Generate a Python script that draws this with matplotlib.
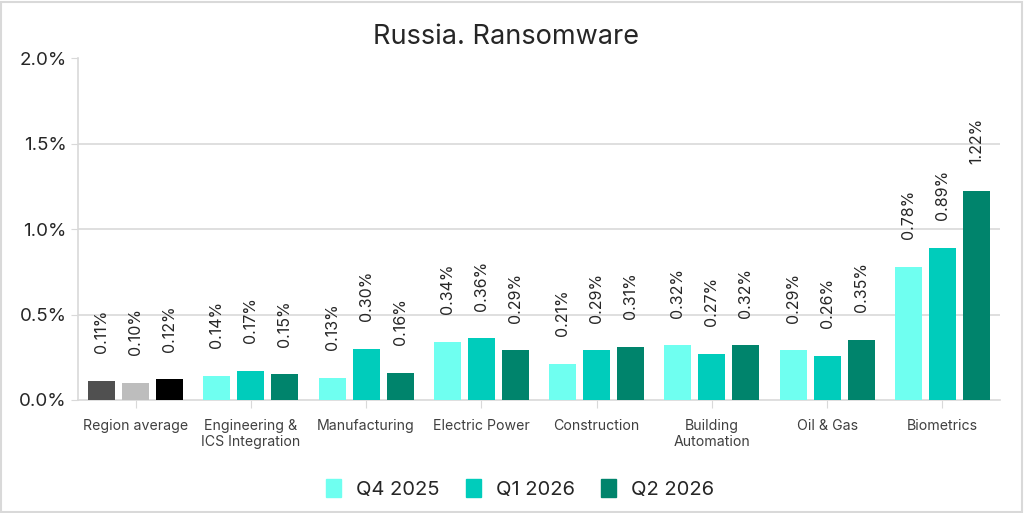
import numpy as np
import matplotlib.pyplot as plt
from matplotlib.patches import Rectangle

plt.rcParams['font.family'] = ['Inter', 'DejaVu Sans']

# --- data ---
categories = ["Region average", "Engineering &\nICS Integration", "Manufacturing",
              "Electric Power", "Construction", "Building\nAutomation",
              "Oil & Gas", "Biometrics"]
series_names = ["Q4 2025", "Q1 2026", "Q2 2026"]
q4_2025 = [0.11, 0.14, 0.13, 0.34, 0.21, 0.32, 0.29, 0.78]
q1_2026 = [0.10, 0.17, 0.30, 0.36, 0.29, 0.27, 0.26, 0.89]
q2_2026 = [0.12, 0.15, 0.16, 0.29, 0.31, 0.32, 0.35, 1.22]
yticks = [0.0, 0.5, 1.0, 1.5, 2.0]

series_colors = ["#6ffff0", "#00ccbb", "#00846c"]
region_colors = ["#505050", "#bdbdbd", "#000000"]
grid_col = "#d9d9d9"
text_col = "#262626"

fig = plt.figure(figsize=(10.24, 5.13), dpi=100)
ax = fig.add_axes([78 / 1024, 113 / 513, 922 / 1024, 342 / 513])

x = np.arange(len(categories))
width = 0.235
step = 0.295
all_series = [q4_2025, q1_2026, q2_2026]

for k, vals in enumerate(all_series):
    cols = [region_colors[k]] + [series_colors[k]] * (len(categories) - 1)
    xs = x + (k - 1) * step
    ax.bar(xs, vals, width=width, color=cols, zorder=3)
    for xi, v in zip(xs, vals):
        ax.annotate(f"{v:.2f}%", (xi, v), xytext=(0, 20), textcoords="offset points",
                    rotation=90, ha="center", va="bottom", fontsize=11.5,
                    color=text_col)

ax.set_xlim(-0.5, len(categories) - 0.5)
ax.set_ylim(0, 2.0)
ax.set_yticks(yticks)
ax.set_yticklabels([f"{t:.1f}%" for t in yticks], fontsize=13.5, color=text_col)
ax.set_xticks(x)
ax.set_xticklabels(categories, fontsize=10.2, color="#404040", linespacing=1.1)
ax.tick_params(axis="y", length=5, color=grid_col, pad=3)
ax.tick_params(axis="x", length=6, color=grid_col, pad=8)

ax.grid(axis="y", color=grid_col, linewidth=1.2, zorder=0)
ax.yaxis.get_gridlines()[-1].set_visible(False)
ax.yaxis.get_gridlines()[0].set_visible(False)
for s in ["top", "right"]:
    ax.spines[s].set_visible(False)
ax.spines["left"].set_color(grid_col)
ax.spines["bottom"].set_color(grid_col)
ax.spines["left"].set_linewidth(1.2)
ax.spines["bottom"].set_linewidth(1.2)

# title is centred on the figure, not on the axes
fig.text(0.494, 0.928, "Russia. Ransomware", fontsize=19.5, color=text_col,
         ha="center", va="center")

handles = [Rectangle((0, 0), 1, 1, color=c) for c in series_colors]
fig.legend(handles, series_names, loc="center", bbox_to_anchor=(0.508, 0.047),
           ncol=3, frameon=False, fontsize=14.5, handlelength=0.75, handleheight=1.0,
           columnspacing=1.3, handletextpad=0.75, labelcolor=text_col)

fig.add_artist(Rectangle((0.001, 0.002), 0.997, 0.995, transform=fig.transFigure,
                         fill=False, edgecolor="#d9d9d9", linewidth=1.5))

fig.savefig("out.png", dpi=100, facecolor="white")
